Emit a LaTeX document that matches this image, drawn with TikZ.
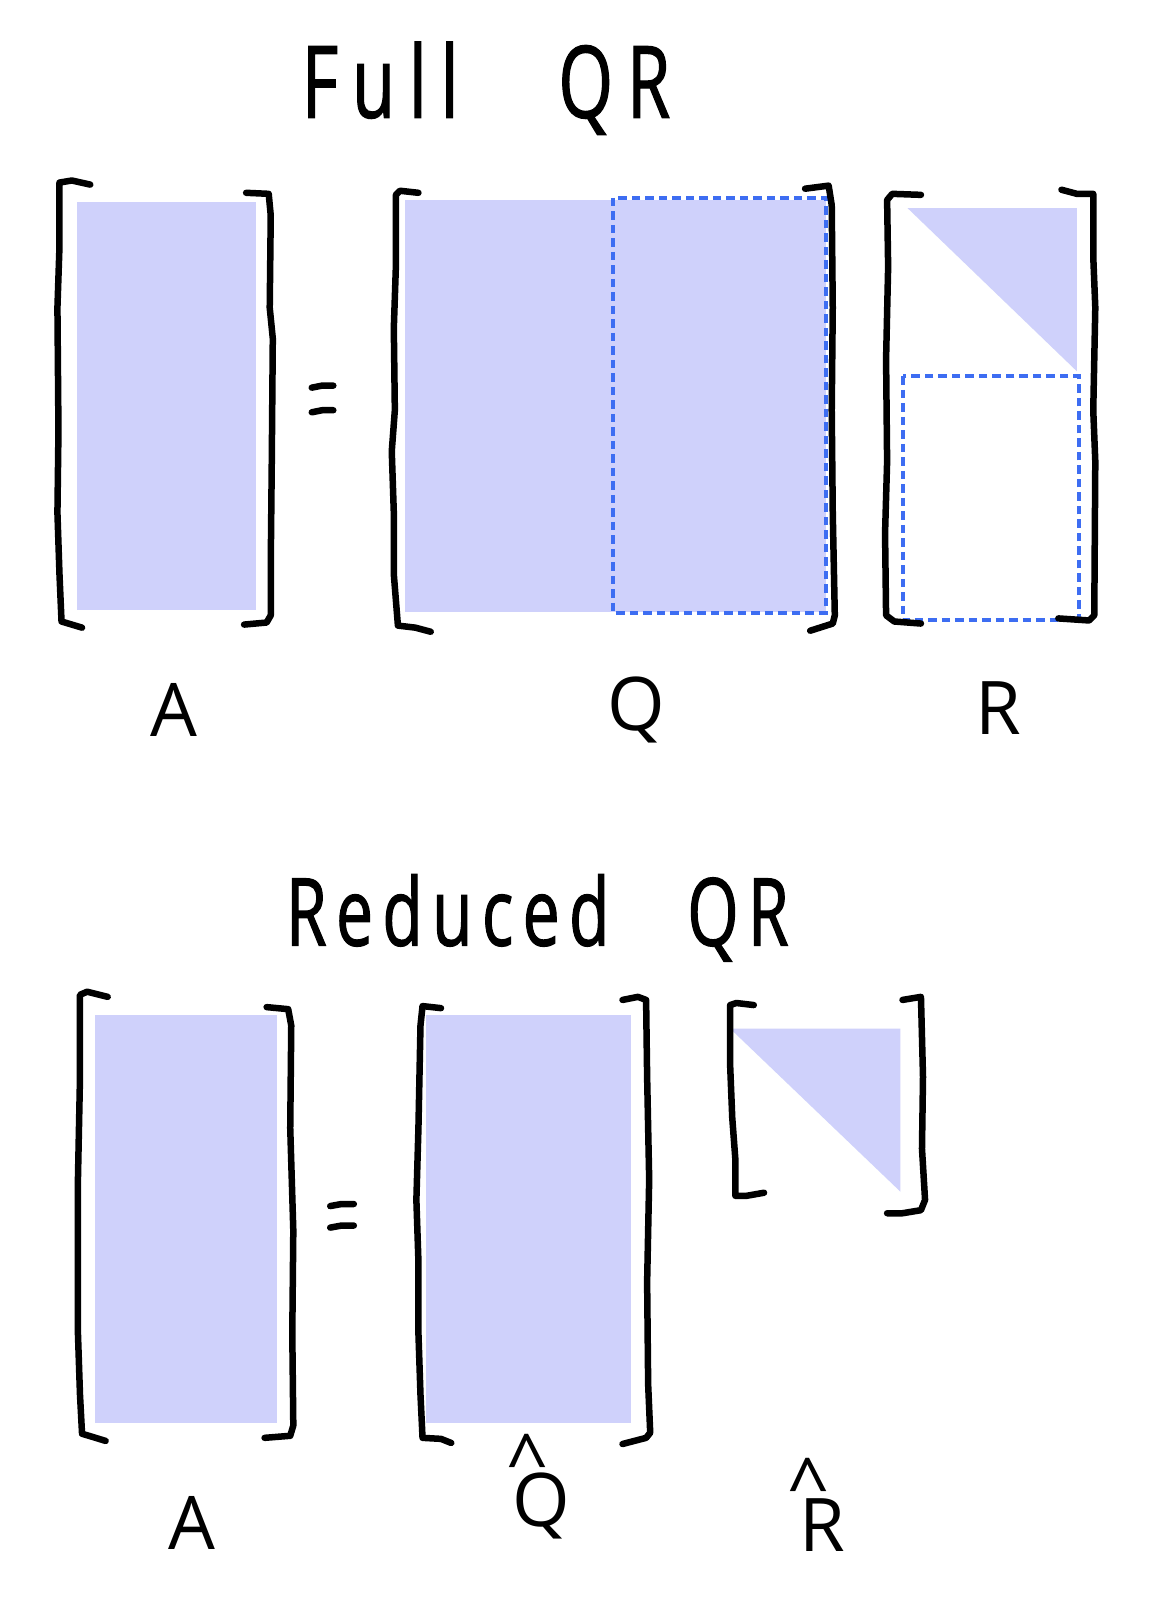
\documentclass[tikz,border=0pt]{standalone}
\usepackage{fontspec}
\usepackage{xcolor}
\newfontfamily\handfont{Open Sans}
\newfontfamily\handtitlefont[LetterSpace=14, FakeStretch=0.7, FakeBold=1.2]{Open Sans}
\newfontfamily\handtitlefontb[LetterSpace=10, FakeStretch=0.7, FakeBold=1.2]{Open Sans}
\usetikzlibrary{positioning,backgrounds}

\definecolor{lavender}{RGB}{207,209,251}
\definecolor{dashblue}{RGB}{61,109,242}

\tikzset{
    bracketline/.style={line width=6.5pt, line cap=round, line join=round, black},
    blockfill/.style={fill=lavender, draw=none},
    bluedash/.style={draw=dashblue, line width=4pt, dash pattern=on 8.5pt off 5pt},
    titletext/.style={font=\handtitlefont\fontsize{100}{110}\selectfont, inner sep=0pt},
    labeltext/.style={font=\handfont\fontsize{74}{80}\selectfont, inner sep=0pt},
    hatmark/.style={labeltext, anchor=base, text depth=0pt}
}

\begin{document}
\begin{tikzpicture}[x=1.0255pt, y=-1.0255pt]
    \useasboundingbox [fill=white] (0,0) rectangle (1136,1565);

    % ---------------- Full QR ----------------
    \node [titletext] (fulltitle) at (474,86) {Full\hspace{100pt}QR};

    % A
    \fill [blockfill] (75,197) rectangle (250,595);
    \draw [bracketline] (88,180) -- (70,176) -- (58,178) -- (58,240) -- (56,300)
        -- (57,420) -- (56,500) -- (58,560) -- (60,606) -- (80,612);
    \draw [bracketline] (240,188) -- (262,189) -- (264,210) -- (263,300) -- (266,330)
        -- (265,450) -- (264,550) -- (264,600) -- (260,607) -- (238,609);

    % equals sign
    \foreach \dy in {0,24} {
        \draw [bracketline] (304,378+\dy) -- (314,376+\dy) -- (325,376+\dy);
    }

    % Q
    \fill [blockfill] (395,195) rectangle (805,597);
    \draw [bluedash] (598,193) rectangle (805,598);
    \draw [bracketline] (408,188) -- (390,186) -- (386,190) -- (386,260) -- (384,320)
        -- (385,400) -- (382,440) -- (384,500) -- (384,560) -- (388,610) -- (405,612) -- (420,616);
    \draw [bracketline] (785,184) -- (808,181) -- (811,200) -- (812,300) -- (811,400)
        -- (812,500) -- (814,600) -- (812,608) -- (790,615);

    % R
    \fill [blockfill] (885,203) -- (1050,203) -- (1050,362) -- cycle;
    \draw [bluedash] (880,367) rectangle (1052,605);
    \draw [bracketline] (898,190) -- (870,189) -- (865,195) -- (866,260) -- (864,350)
        -- (865,450) -- (863,520) -- (864,600) -- (872,606) -- (898,608);
    \draw [bracketline] (1035,185) -- (1050,189) -- (1066,189) -- (1066,250) -- (1068,300)
        -- (1066,400) -- (1068,450) -- (1067,600) -- (1062,605) -- (1032,603);

    % labels
    \node [labeltext] (labelA) at (170,692) {A};
    \node [labeltext] (labelQ) at (620,692) {Q};
    \node [labeltext] (labelR) at (973,690) {R};

    % ---------------- Reduced QR ----------------
    \node [titletext, font=\handtitlefontb\fontsize{94}{100}\selectfont] (reducedtitle)
        at (524,895) {Reduced\hspace{78pt}QR};

    % A
    \fill [blockfill] (93,990) rectangle (270,1388);
    \draw [bracketline] (105,972) -- (85,967) -- (78,970) -- (78,1050) -- (76,1150)
        -- (76,1300) -- (78,1360) -- (80,1398) -- (90,1401) -- (103,1405);
    \draw [bracketline] (260,982) -- (281,984) -- (284,1000) -- (283,1100) -- (286,1200)
        -- (285,1300) -- (286,1390) -- (283,1400) -- (258,1402);

    % equals sign
    \foreach \dy in {0,21} {
        \draw [bracketline] (322,1176+\dy) -- (333,1174+\dy) -- (345,1174+\dy);
    }

    % Q hat
    \fill [blockfill] (415,990) rectangle (615,1388);
    \draw [bracketline] (430,983) -- (412,981) -- (410,1000) -- (408,1100) -- (406,1170)
        -- (408,1230) -- (408,1300) -- (410,1360) -- (412,1402) -- (430,1403) -- (440,1407);
    \draw [bracketline] (607,975) -- (622,972) -- (630,975) -- (631,1050) -- (633,1150)
        -- (631,1250) -- (632,1350) -- (634,1397) -- (630,1402) -- (607,1408);

    % R hat
    \fill [blockfill] (712,1003) -- (878,1003) -- (878,1162) -- cycle;
    \draw [bracketline] (735,980) -- (718,978) -- (712,980) -- (712,1040) -- (714,1090)
        -- (717,1130) -- (717,1166) -- (728,1166) -- (745,1163);
    \draw [bracketline] (880,975) -- (898,972) -- (900,1050) -- (899,1120) -- (902,1170)
        -- (898,1180) -- (880,1183) -- (865,1183);

    % labels
    \node [labeltext] (labelAb) at (187,1485) {A};
    \node [labeltext] (labelQhat) at (528,1468) {Q};
    \node [hatmark] (hatQ) at (514,1427) {\raisebox{-24pt}{\textasciicircum}};
    \node [labeltext] (labelRhat) at (802,1487) {R};
    \node [hatmark] (hatR) at (788,1450) {\raisebox{-24pt}{\textasciicircum}};
\end{tikzpicture}
\end{document}
